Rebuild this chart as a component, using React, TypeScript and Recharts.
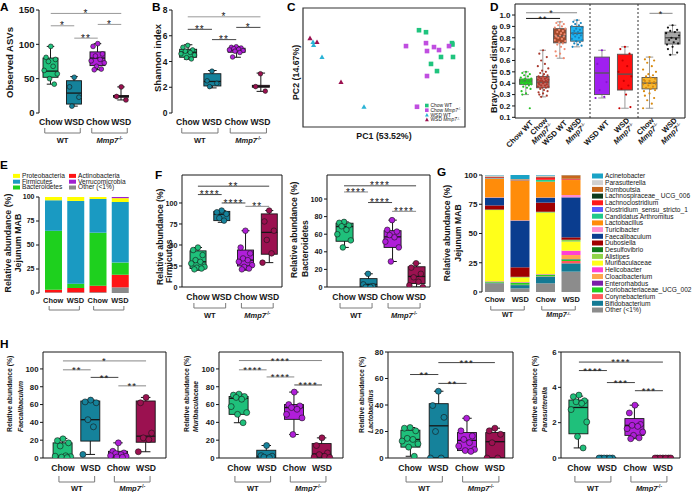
import React from 'react';
import {
  ComposedChart,
  BarChart,
  ScatterChart,
  Bar,
  Scatter,
  XAxis,
  YAxis,
  ReferenceLine,
  ReferenceArea,
  Legend,
} from 'recharts';

const FONT = '"Liberation Sans", Arial, Helvetica, sans-serif';
const INK = '#161616';

// every box panel: Chow WT, WSD WT, Chow Mmp7-/-, WSD Mmp7-/-
const groupColors = ['#1fc07b', '#15829b', '#b01ed9', '#9b1150'];
const xCats = ['Chow', 'WSD', 'Chow', 'WSD'];
const barGroups = ['Chow WT', 'WSD WT', 'Chow KO', 'WSD KO'];

type Sig = [number, number, number, string, string?];

// box stats are [min, q1, median, q3, max]
const asvStats = [[42, 52, 61, 80, 97], [10, 13, 29, 47, 53], [63, 69, 80, 89, 101], [19, 23, 24, 25.5, 38]];
const asvPts = [[97, 81, 78, 75, 68, 62, 57, 50, 42], [52, 38, 23, 10], [101, 97, 86, 83, 78, 76, 73, 68, 64, 63], [38, 24, 19]];
const asvSig: Sig[] = [[0, 3, 145, '*', '#999'], [0, 1, 127, '*', '#999'], [1, 2, 109, '**', '#999'], [2, 3, 129, '*', '#999']];

const shanStats = [[4.18, 4.33, 4.72, 4.95, 5.3], [1.95, 2.1, 2.45, 3.05, 3.3], [4.33, 4.72, 4.9, 5.03, 5.15], [1.68, 2.0, 2.07, 2.15, 3.1]];
const shanPts = [[5.25, 5.1, 4.9, 4.8, 4.7, 4.6, 4.5, 4.3, 4.2], [3.25, 2.5, 2.3, 2.05], [5.15, 5.1, 5.05, 5.0, 4.95, 4.9, 4.85, 4.8, 4.7, 4.35], [3.05, 2.05, 1.7]];
const shanSig: Sig[] = [[0, 3, 7.47, '*', '#999'], [0, 1, 6.5, '**'], [1, 2, 5.7, '**'], [2, 3, 6.65, '*']];

// PCA scores [PC1, PC2]
const pcNames = ['Chow WT', 'Chow Mmp7', 'WSD WT', 'WSD Mmp7'];
const pcChowWT = [[0.175, 0.188], [0.21, 0.178], [0.34, 0.123], [0.342, 0.116], [0.285, 0.053], [0.345, 0.053], [0.235, 0.018], [0.265, -0.018]];
const pcChowKO = [[0.11, 0.108], [0.21, 0.123], [0.215, 0.083], [0.25, 0.103], [0.275, 0.088], [0.325, 0.108], [0.215, -0.043], [0.165, -0.198]];
const pcWsdWT = [[-0.355, 0.128], [-0.352, 0.113], [-0.31, 0.053], [-0.1, -0.198]];
const pcWsdKO = [[-0.37, 0.148], [-0.335, 0.128], [-0.215, -0.073]];

// Bray-Curtis, three facets
const d1Stats = [[0.3, 0.39, 0.42, 0.437, 0.5], [0.28, 0.36, 0.41, 0.46, 0.69], [0.62, 0.755, 0.815, 0.88, 0.94], [0.72, 0.77, 0.84, 0.9, 0.955]];
const d1Pts = [
  [0.5, 0.49, 0.48, 0.47, 0.46, 0.45, 0.44, 0.44, 0.43, 0.43, 0.42, 0.42, 0.42, 0.41, 0.41, 0.41, 0.4, 0.4, 0.4, 0.39, 0.39, 0.38, 0.37, 0.36, 0.35, 0.33, 0.31, 0.3, 0.18],
  [0.69, 0.66, 0.63, 0.6, 0.57, 0.55, 0.53, 0.51, 0.5, 0.49, 0.48, 0.47, 0.46, 0.46, 0.45, 0.45, 0.44, 0.44, 0.43, 0.43, 0.42, 0.42, 0.42, 0.41, 0.41, 0.4, 0.4, 0.39, 0.39, 0.38, 0.38, 0.37, 0.37, 0.36, 0.36, 0.35, 0.34, 0.33, 0.32, 0.31, 0.3, 0.29, 0.28],
  [0.94, 0.93, 0.92, 0.91, 0.9, 0.89, 0.88, 0.87, 0.86, 0.85, 0.84, 0.83, 0.82, 0.82, 0.81, 0.81, 0.8, 0.79, 0.78, 0.77, 0.76, 0.75, 0.74, 0.72, 0.7, 0.68, 0.66, 0.64, 0.62],
  [0.955, 0.94, 0.93, 0.92, 0.91, 0.9, 0.89, 0.88, 0.87, 0.86, 0.85, 0.84, 0.84, 0.83, 0.83, 0.82, 0.81, 0.8, 0.79, 0.78, 0.77, 0.76, 0.75, 0.74, 0.73, 0.72],
];
const d1Sig: Sig[] = [[0, 2, 0.97, '**', INK], [0, 3, 1.02, '*', '#888']];
const d2Stats = [[0.27, 0.3, 0.49, 0.63, 0.69], [0.18, 0.34, 0.48, 0.655, 0.72]];
const d2Pts = [[0.69, 0.57, 0.41, 0.34, 0.28, 0.27], [0.72, 0.7, 0.66, 0.6, 0.55, 0.5, 0.46, 0.42, 0.38, 0.35, 0.3, 0.19, 0.18]];
const d3Stats = [[0.18, 0.35, 0.4, 0.45, 0.63], [0.65, 0.745, 0.8, 0.85, 0.91]];
const d3Pts = [
  [0.63, 0.61, 0.6, 0.58, 0.55, 0.52, 0.5, 0.48, 0.47, 0.46, 0.45, 0.44, 0.43, 0.42, 0.42, 0.41, 0.4, 0.4, 0.39, 0.39, 0.38, 0.37, 0.36, 0.35, 0.34, 0.33, 0.31, 0.29, 0.27, 0.25, 0.22, 0.18],
  [0.91, 0.89, 0.87, 0.86, 0.85, 0.84, 0.82, 0.8, 0.79, 0.78, 0.76, 0.75, 0.74, 0.72, 0.7, 0.67, 0.65],
];
const d3Sig: Sig[] = [[0, 1, 1.015, '*', '#888']];
const d1Labels = [['Chow WT'], ['Chow', 'Mmp7'], ['WSD WT'], ['WSD', 'Mmp7']];
const d2Labels = [['WSD WT'], ['WSD', 'Mmp7']];
const d3Labels = [['Chow', 'Mmp7'], ['WSD', 'Mmp7']];
const dTicks = [0.1, 0.2, 0.3, 0.4, 0.5, 0.6, 0.7, 0.8, 0.9, 1.0];

// phylum stack (bottom to top), groups in barGroups order
const phyla = ['Other (<1%)', 'Actinobacteria', 'Bacteroidetes', 'Firmicutes', 'Proteobacteria', 'Verrucomicrobia'];
const phylumColors = ['#8a8a8a', '#ff1414', '#1ed01e', '#1a9ac2', '#ffff00', '#a020d0'];
const phylumVals = [
  [0.7, 0.7, 0.8, 5.9],
  [2.7, 4.5, 6.8, 13.1],
  [61.4, 4.5, 55.2, 12.7],
  [31.8, 86.2, 35.1, 63.1],
  [3.4, 4.1, 2.1, 4.0],
  [0, 0, 0, 1.2],
];
const phylumLegend = ['Proteobacteria', 'Firmicutes', 'Bacteroidetes', 'Actinobacteria', 'Verrucomicrobia', 'Other (<1%)'];

const firmStats = [[20, 22, 30, 43, 47], [77, 79, 86.5, 90, 91], [20, 25, 32, 44, 67], [29, 39, 65, 87, 91]];
const firmPts = [[47, 44, 38, 32, 30, 28, 24, 23, 22, 21], [91, 89, 87, 82, 79], [67, 47, 40, 34, 32, 30, 26, 24, 22, 21], [91, 78, 67, 56, 40, 29]];
const firmSig: Sig[] = [[0, 3, 120, '**'], [0, 1, 110, '****'], [1, 2, 100, '****'], [2, 3, 96, '**', '#888']];

const bactStats = [[45, 52, 68.7, 72.5, 74], [0, 0, 3, 9.5, 15], [29, 45, 57, 64, 76], [0, 4, 12, 23, 27]];
const bactPts = [[74, 73, 70, 69, 65, 60, 53, 45], [15, 3, 1, 0, 0], [76, 65, 63, 59, 56.5, 51.5, 45, 29], [27, 22, 15, 11, 6, 2, 0]];
const bactSig: Sig[] = [[0, 3, 115, '****'], [0, 1, 108, '****', '#888'], [1, 2, 96, '****'], [2, 3, 86, '****', '#888']];

// genus stack (bottom to top)
const genera = [
  'Other (<1%)', 'Bifidobacterium', 'Corynebacterium', 'Coriobacteriaceae_UCG_002', 'Enterorhabdus',
  'Cloacibacterium', 'Helicobacter', 'Muribaculaceae', 'Alistipes', 'Desulfovibrio', 'Dubosiella',
  'Faecalibaculum', 'Turicibacter', 'Lactobacillus', 'Candidatus Arthromitus', 'Clostridium_sensu_stricto_1',
  'Lachnoclostridium', 'Lachnospiraceae_ UCG_006', 'Romboutsia', 'Parasutterella', 'Acinetobacter',
];
const genusColors = [
  '#8c8c8c', '#137a94', '#ff5a5a', '#22d022', '#7a1fa8', '#ffa64d', '#ff3fd4', '#ffff1a', '#8fd448', '#0f7a1a',
  '#a00000', '#0a3d8f', '#ff8ccf', '#ff8c0a', '#1fc98a', '#5b5bff', '#ff1a1a', '#0d3b1e', '#c8661a', '#d0d0d0', '#1ba3c6',
];
const genusVals = [
  [7.5, 3.1, 7.4, 17.4], [0.3, 2.8, 5.7, 7.1], [0.2, 0.3, 0.3, 2.0], [0.8, 1.7, 1.4, 1.4], [0.1, 0.2, 0.1, 0.3],
  [0.1, 0.1, 0.2, 3.4], [0.2, 0.3, 0.2, 3.7], [60.8, 4.0, 52.5, 7.7], [0.2, 0.2, 0.5, 1.4], [0.3, 0.3, 0.3, 0.3],
  [3.5, 8.1, 7.8, 2.0], [6.6, 39.9, 4.2, 34.2], [0.3, 0.3, 0.2, 2.0], [16.0, 33.9, 13.5, 12.8], [0.3, 0.1, 1.4, 0.2],
  [0.2, 0.1, 0.2, 0.1], [0.7, 0.2, 2.1, 0.6], [0.3, 0.1, 0.3, 0.2], [0.3, 0.6, 0.4, 3.0], [1.0, 0.2, 0.8, 0.1], [0.3, 3.5, 0.5, 0.1],
];

const faecStats = [[0.3, 0.8, 2, 17, 22], [4, 19, 43, 64, 65], [0.8, 2, 5, 7.5, 17], [7, 17.7, 24.5, 64, 68]];
const faecPts = [[21.5, 19.5, 17, 13.5, 2.5, 2, 1.5, 1, 0.5], [65, 63, 62, 43, 35, 4], [17, 7.5, 5.7, 5, 3.8, 2.6, 1.9, 1.1, 0.8], [68, 62, 28, 22.6, 20.7, 7]];
const faecSig: Sig[] = [[0, 3, 109, '*', '#888'], [0, 1, 99, '**', '#888'], [1, 2, 90.5, '**'], [2, 3, 81, '**', '#888']];

const muriStats = [[39.6, 49, 67, 69, 71.7], [0, 0, 2, 8.7, 14], [26.4, 43.4, 56.6, 60, 74], [0, 1.1, 4.5, 16.2, 22.6]];
const muriPts = [[71.7, 70.6, 69, 68, 66, 57.7, 51, 49, 39.6], [14, 2.6, 2, 1, 0.5], [74, 60, 58.5, 56.6, 54.7, 49, 45, 26.4], [22.6, 14, 5.7, 3.8, 1.9, 1.1, 0.7]];
const muriSig: Sig[] = [[0, 3, 109.4, '****', '#888'], [0, 1, 99, '****', '#888'], [1, 2, 91, '****', '#888'], [2, 3, 82, '****']];

const lactStats = [[1.3, 8.2, 14, 21, 23], [0, 0, 24.3, 41, 50.4], [5, 5.6, 13.3, 19.2, 30], [0, 0, 12.3, 19.2, 22.5]];
const lactPts = [[23, 22.5, 20.5, 14.8, 14, 12.8, 10.7, 8.2, 1.3], [50.4, 39.6, 30.7, 20, 0, 0], [30, 20.5, 16.6, 14, 11.5, 9, 6.4, 5.6, 5], [22.5, 20.5, 17.9, 11.5, 0, 0]];
const lactSig: Sig[] = [[0, 1, 63, '**'], [1, 3, 72, '***'], [1, 2, 56.3, '**']];

const paraStats = [[0.57, 1.37, 2.86, 3.28, 3.5], [0, 0, 0, 0, 0], [1.09, 1.28, 1.85, 2.23, 2.99], [0, 0, 0, 0, 0]];
const paraPts = [[3.56, 3.47, 3.24, 3.18, 3.09, 2.74, 2.04, 1.22, 0.57], [0, 0, 0, 0, 0, 0], [2.99, 2.55, 1.9, 1.85, 1.79, 1.66, 1.47, 1.28, 1.14, 1.09], [0, 0, 0, 0, 0, 0, 0]];
const paraSig: Sig[] = [[0, 3, 5.43, '****'], [0, 1, 4.95, '****'], [1, 2, 4.27, '***'], [2, 3, 3.81, '***']];

// horizontal spread of dots inside a box (fraction of a category)
const JIT = [0, -0.2, 0.2, -0.1, 0.1, -0.28, 0.28, -0.05, 0.15, -0.15, 0.05, 0.24, -0.24];

const Mmp7 = ({ fs }: { fs: number }) => (
  <>
    <tspan fontStyle="italic">Mmp7</tspan>
    <tspan dy={-fs * 0.35} fontSize={fs * 0.62}>-/-</tspan>
  </>
);

type TickOpt = { fs: number; ly: number; bt: number; bb: number; gy?: number; gfs?: number; ext: number };

const groupTick = (o: TickOpt) => (s: number) => (p: any) => {
  const i = p.index;
  const { x, y } = p;
  return (
    <g>
      <text x={x} y={y + o.ly} textAnchor="middle" fontSize={o.fs} fontWeight={700} fontFamily={FONT} fill={INK}>
        {xCats[i]}
      </text>
      {i % 2 === 0 && (
        <path d={`M${x - o.ext},${y + o.bt}V${y + o.bb}H${x + s + o.ext}V${y + o.bt}`} fill="none" stroke="#7a7a7a" strokeWidth={1} />
      )}
      {i % 2 === 0 && o.gy != null && (
        <text x={x + s / 2} y={y + o.gy} textAnchor="middle" fontSize={o.gfs} fontWeight={700} fontFamily={FONT} fill={INK}>
          {i === 0 ? 'WT' : <Mmp7 fs={o.gfs || 7} />}
        </text>
      )}
    </g>
  );
};

const dTick = (labels: string[][]) => () => (p: any) => {
  const L = labels[p.index] || [];
  return (
    <g transform={`translate(${p.x + 4},${p.y + 2}) rotate(-45)`}>
      {L.map((t, k) => (
        <text key={k} x={0} y={5 + (k - (L.length - 1) / 2) * 7.5} textAnchor="end" fontSize={7.6} fontWeight={700} fontFamily={FONT} fill={INK}>
          {t === 'Mmp7' ? <Mmp7 fs={7.6} /> : t}
        </text>
      ))}
    </g>
  );
};

function BoxShape(p: any) {
  const { x, y, width, height, payload, line, wcol } = p;
  if (x == null || !payload) return null;
  const [lo, hi] = payload.range;
  const f = (v: number) => (hi === lo ? y : y + (height * (hi - v)) / (hi - lo));
  const cx = x + width / 2;
  const cap = width * 0.25;
  const y3 = f(payload.q3);
  const y1 = f(payload.q1);
  return (
    <g>
      <line x1={cx} x2={cx} y1={f(hi)} y2={f(lo)} stroke={wcol} strokeWidth={1} />
      <line x1={cx - cap} x2={cx + cap} y1={f(hi)} y2={f(hi)} stroke={wcol} strokeWidth={1} />
      <line x1={cx - cap} x2={cx + cap} y1={f(lo)} y2={f(lo)} stroke={wcol} strokeWidth={1} />
      <rect x={x} y={y3} width={width} height={Math.max(y1 - y3, 0.6)} fill={payload.c} stroke={line} strokeWidth={0.9} />
      <line x1={x} x2={x + width} y1={f(payload.med)} y2={f(payload.med)} stroke={line} strokeWidth={1.3} />
    </g>
  );
}

const SigText = (p: any) => {
  const vb = p.viewBox || {};
  return (
    <text x={(vb.x || 0) + (vb.width || 0) / 2} y={(vb.y || 0) + p.fs * 0.36} textAnchor="middle" fontSize={p.fs} fontFamily={FONT} fill={INK} letterSpacing={1.1}>
      {p.t}
    </text>
  );
};

function BoxPanel(p: any) {
  const {
    x0, x1, y0, y1, yw, dom, yTicks, xdom, stats, pts, colors, ptColors, sigs, bar, r, jit = 1,
    frame = '', tick, xh, tfs = 8, line = INK, wcol = INK, ptStroke = INK, sigFs = 10, hideY = false, fmt, ml = 0,
  } = p;
  const mt = 10;
  const mr = 6;
  const left = x0 - yw - ml;
  const top = y0 - mt;
  const w = x1 - left + mr;
  const h = y1 - top + xh;
  const n = stats.length;
  const s = (x1 - x0) / (xdom[1] - xdom[0]);
  const rows = stats.map((q: number[], i: number) => ({ key: `g${i}`, pos: i + 0.5, range: [q[0], q[4]], q1: q[1], med: q[2], q3: q[3], c: colors[i] }));
  const pc = ptColors || colors;
  const dots = pts.flatMap((a: number[], i: number) =>
    a.map((v, j) => ({ pos: i + 0.5 + JIT[j % JIT.length] * jit, v, c: pc[i] })),
  );
  return (
    <div style={{ position: 'absolute', left, top }}>
      <ComposedChart width={w} height={h} data={rows} margin={{ top: mt, right: mr, bottom: 0, left: ml }}>
        <XAxis
          dataKey="pos"
          type="number"
          domain={xdom}
          allowDataOverflow
          ticks={rows.map((q: any) => q.pos)}
          interval={0}
          height={xh}
          tickSize={0}
          tickMargin={0}
          tickLine={false}
          axisLine={frame.includes('b') ? { stroke: INK } : false}
          tick={tick(s)}
        />
        <XAxis
          xAxisId="cat"
          dataKey="key"
          type="category"
          hide
          padding={{ left: -xdom[0] * s, right: (xdom[1] - n) * s }}
        />
        <YAxis
          type="number"
          domain={dom}
          allowDataOverflow
          ticks={yTicks}
          interval={0}
          width={yw}
          hide={hideY}
          tickSize={3}
          tickMargin={1.5}
          stroke={INK}
          tickFormatter={fmt}
          tick={{ fontSize: tfs, fontWeight: 700, fill: INK, fontFamily: FONT }}
        />
        {frame.includes('t') && <ReferenceLine y={dom[1]} stroke={INK} ifOverflow="visible" />}
        {frame.includes('r') && <ReferenceLine x={xdom[1]} stroke={INK} ifOverflow="visible" />}
        {frame.includes('d') && <ReferenceLine x={xdom[0]} stroke="#333" strokeDasharray="2 2" ifOverflow="visible" />}
        <Bar xAxisId="cat" dataKey="range" barSize={bar} isAnimationActive={false} shape={(b: any) => <BoxShape {...b} line={line} wcol={wcol} />} />
        <Scatter
          data={dots}
          dataKey="v"
          isAnimationActive={false}
          shape={(d: any) => <circle cx={d.cx} cy={d.cy} r={r} fill={d.payload.c} stroke={ptStroke} strokeWidth={0.6} />}
        />
        {sigs.map(([a, b, y, t, c]: Sig, k: number) => (
          <ReferenceLine
            key={k}
            segment={[{ x: a + 0.5, y }, { x: b + 0.5, y }]}
            stroke={c || '#444'}
            strokeWidth={1}
            ifOverflow="visible"
            label={<SigText t={t} fs={sigFs} />}
          />
        ))}
      </ComposedChart>
    </div>
  );
}

const abTick = groupTick({ fs: 8.6, ly: 12, bt: 15, bb: 20, gy: 30, gfs: 7.5, ext: 6 });
const fTick = groupTick({ fs: 8.6, ly: 13, bt: 16, bb: 21, gy: 31, gfs: 7.5, ext: 4 });
const hTick = groupTick({ fs: 8.6, ly: 13, bt: 18, bb: 24, gy: 33, gfs: 7.5, ext: 4 });
const eTick = groupTick({ fs: 7.4, ly: 10, bt: 13, bb: 17, ext: 4 });
const gTick = groupTick({ fs: 7.4, ly: 10, bt: 14, bb: 18, gy: 25, gfs: 7, ext: 4 });

const phylumLegendBox = (p: any) => {
  const items: any[] = phylumLegend.map((n) => (p.payload || []).find((q: any) => q.value === n)).filter(Boolean);
  return (
    <svg width={125} height={19} style={{ display: 'block', overflow: 'visible' }}>
      {items.map((q, k) => {
        const x = k < 3 ? 0 : 56;
        const y = (k % 3) * 5.8;
        return (
          <g key={q.value}>
            <rect x={x} y={y + 0.9} width={7} height={4} fill={q.color} />
            <text x={x + 9} y={y + 4.8} fontSize={6.6} fontFamily={FONT} fill={INK}>{q.value}</text>
          </g>
        );
      })}
    </svg>
  );
};

const genusLegendBox = (p: any) => {
  const items: any[] = [...(p.payload || [])].sort((a: any, b: any) => genera.indexOf(b.value) - genera.indexOf(a.value));
  return (
    <svg width={104} height={146} style={{ display: 'block', overflow: 'visible' }}>
      {items.map((q, k) => (
        <g key={q.value}>
          <rect x={0} y={3 + k * 6.7 - 2.5} width={11} height={5} fill={q.color} />
          <text x={13} y={3 + k * 6.7 + 2.3} fontSize={6.6} fontFamily={FONT} fill={INK}>{q.value}</text>
        </g>
      ))}
    </svg>
  );
};

const pcaLegendBox = (p: any) => {
  const items: any[] = pcNames.map((n) => (p.payload || []).find((q: any) => q.value === n)).filter(Boolean);
  return (
    <svg width={44} height={20} style={{ display: 'block', overflow: 'visible' }}>
      {items.map((q, k) => {
        const cy = 2.5 + k * 4.7;
        const [g, ko] = String(q.value).split(' ');
        return (
          <g key={k}>
            {k < 2 ? (
              <rect x={0} y={cy - 1.8} width={3.6} height={3.6} fill={q.color} />
            ) : (
              <polygon points={`0,${cy + 1.7} 3.8,${cy + 1.7} 1.9,${cy - 2}`} fill={q.color} />
            )}
            <text x={5.5} y={cy + 1.7} fontSize={4.9} fontFamily={FONT} fill={INK}>
              {g} {ko === 'Mmp7' ? <Mmp7 fs={4.9} /> : ko}
            </text>
          </g>
        );
      })}
    </svg>
  );
};

const square = (d: any) => <rect x={d.cx - 2.3} y={d.cy - 2.3} width={4.6} height={4.6} fill={d.fill} />;
const triangle = (d: any) => <polygon points={`${d.cx - 2.6},${d.cy + 2} ${d.cx + 2.6},${d.cy + 2} ${d.cx},${d.cy - 2.6}`} fill={d.fill} />;
const toXY = (a: number[][]) => a.map(([x, y]) => ({ x, y }));

function PcaPanel() {
  return (
    <div style={{ position: 'absolute', left: 285, top: 4 }}>
      <ScatterChart width={184} height={139} margin={{ top: 4, right: 4, bottom: 0, left: 0 }}>
        <XAxis type="number" dataKey="x" domain={[-0.405, 0.405]} allowDataOverflow tick={false} tickLine={false} axisLine={false} height={16} />
        <YAxis type="number" dataKey="y" domain={[-0.3, 0.3]} allowDataOverflow tick={false} tickLine={false} axisLine={false} width={18} />
        <ReferenceArea x1={-0.405} x2={0.405} y1={-0.3} y2={0.3} fill="none" stroke="#333" strokeWidth={1.2} ifOverflow="visible" />
        <Scatter name="Chow WT" data={toXY(pcChowWT)} fill="#1fc47e" shape={square} isAnimationActive={false} />
        <Scatter name="Chow Mmp7" data={toXY(pcChowKO)} fill="#c04ee0" shape={square} isAnimationActive={false} />
        <Scatter name="WSD WT" data={toXY(pcWsdWT)} fill="#2bb3d6" shape={triangle} isAnimationActive={false} />
        <Scatter name="WSD Mmp7" data={toXY(pcWsdKO)} fill="#9b1150" shape={triangle} isAnimationActive={false} />
        <Legend layout="horizontal" verticalAlign="middle" align="center" wrapperStyle={{ left: 140, top: 99, width: 44, height: 20 }} content={pcaLegendBox} />
      </ScatterChart>
    </div>
  );
}

function PhylumPanel() {
  const rows = barGroups.map((g, i) => {
    const o: any = { g };
    phyla.forEach((ph, k) => (o[ph] = phylumVals[k][i]));
    return o;
  });
  return (
    <div style={{ position: 'absolute', left: 20, top: 168 }}>
      <BarChart width={115} height={145} data={rows} margin={{ top: 29, right: 2, bottom: 0, left: 0 }}>
        <XAxis dataKey="g" height={20} tickSize={0} tickMargin={0} tickLine={false} axisLine={false} padding={{ left: 3, right: 2 }} interval={0} tick={eTick(22.25)} />
        <YAxis domain={[0, 100]} ticks={[0, 25, 50, 75, 100]} interval={0} width={19} tickSize={3} tickMargin={1.5} stroke={INK} tick={{ fontSize: 7, fontWeight: 700, fill: INK, fontFamily: FONT }} />
        {phyla.map((ph, k) => (
          <Bar key={ph} dataKey={ph} name={ph} stackId="a" fill={phylumColors[k]} barSize={17} isAnimationActive={false} />
        ))}
        <Legend layout="horizontal" verticalAlign="middle" align="center" wrapperStyle={{ left: -7, top: 5, width: 125, height: 19 }} content={phylumLegendBox} />
      </BarChart>
    </div>
  );
}

function GenusPanel() {
  const rows = barGroups.map((g, i) => {
    const o: any = { g };
    genera.forEach((ge, k) => (o[ge] = genusVals[k][i]));
    return o;
  });
  return (
    <div style={{ position: 'absolute', left: 462, top: 168 }}>
      <BarChart width={234} height={152} data={rows} margin={{ top: 7, right: 107, bottom: 0, left: 0 }}>
        <XAxis dataKey="g" height={28} tickSize={0} tickMargin={0} tickLine={false} axisLine={false} padding={{ left: 0, right: 5 }} interval={0} tick={gTick(25.5)} />
        <YAxis domain={[0, 100]} ticks={[0, 25, 50, 75, 100]} interval={0} width={20} tickSize={3} tickMargin={1.5} stroke={INK} tick={{ fontSize: 8, fontWeight: 700, fill: INK, fontFamily: FONT }} />
        {genera.map((ge, k) => (
          <Bar key={ge} dataKey={ge} name={ge} stackId="a" fill={genusColors[k]} barSize={19} isAnimationActive={false} />
        ))}
        <Legend layout="horizontal" verticalAlign="middle" align="center" wrapperStyle={{ left: 130, top: 5, width: 104, height: 146 }} content={genusLegendBox} />
      </BarChart>
    </div>
  );
}

const Letter = ({ t, x, y }: { t: string; x: number; y: number }) => (
  <div style={{ position: 'absolute', left: x, top: y, fontFamily: FONT, fontWeight: 700, fontSize: 11.8, lineHeight: 1, color: '#000' }}>{t}</div>
);

// vertical axis title; y is where the text starts (bottom) unless mid
const VLab = ({ x, y, size, it, mid, children }: any) => (
  <div
    style={{
      position: 'absolute', left: x, top: y, transformOrigin: '0 0',
      transform: mid ? 'rotate(-90deg) translate(-50%, -50%)' : 'rotate(-90deg) translateY(-50%)',
      whiteSpace: 'nowrap', fontFamily: FONT, fontWeight: 700, fontSize: size, fontStyle: it ? 'italic' : 'normal',
      lineHeight: 1, color: INK,
    }}
  >
    {children}
  </div>
);

const dBox1 = ['#2ee82e', '#c8685e', '#a34a2c', '#1fb4f0'];
const dPt1 = ['#26c026', '#a8382c', '#f08a70', '#1583bd'];

export default function App() {
  return (
    <div style={{ position: 'absolute', left: 0, top: 0, width: 696, height: 492, overflow: 'hidden', background: '#fff' }}>
      <BoxPanel x0={39} x1={133} y0={10} y1={113} yw={22} dom={[0, 150]} yTicks={[0, 50, 100, 150]} xdom={[0, 4]}
        stats={asvStats} pts={asvPts} colors={groupColors} sigs={asvSig} bar={15} r={2.4} tick={abTick} xh={36} tfs={9.5} />
      <BoxPanel x0={172} x1={275} y0={10} y1={113} yw={12} dom={[0, 8]} yTicks={[0, 2, 4, 6, 8]} xdom={[-0.15, 4.1]}
        stats={shanStats} pts={shanPts} colors={groupColors} sigs={shanSig} bar={17} r={2.3} tick={abTick} xh={36} tfs={8.5} />
      <PcaPanel />

      <BoxPanel x0={515} x1={590} y0={4} y1={118} yw={24} dom={[0.094, 1.097]} yTicks={dTicks} xdom={[-0.15, 4.26]}
        stats={d1Stats} pts={d1Pts} colors={dBox1} ptColors={dPt1} sigs={d1Sig} bar={12.5} r={1.1} jit={1.1}
        frame="tb" tick={dTick(d1Labels)} xh={42} tfs={8} line="#555" wcol="#999" ptStroke="none" sigFs={9}
        fmt={(v: number) => v.toFixed(1)} />
      <BoxPanel x0={590} x1={638} y0={4} y1={118} yw={0} ml={40} hideY dom={[0.094, 1.097]} yTicks={dTicks} xdom={[-0.02, 2.07]}
        stats={d2Stats} pts={d2Pts} colors={['#a020f0', '#ff1010']} ptColors={['#8a12d0', '#c80000']} sigs={[]} bar={15} r={1.1}
        frame="tbd" tick={dTick(d2Labels)} xh={42} line="#555" wcol="#999" ptStroke="none" />
      <BoxPanel x0={638} x1={685} y0={4} y1={118} yw={0} ml={40} hideY dom={[0.094, 1.097]} yTicks={dTicks} xdom={[0, 2.04]}
        stats={d3Stats} pts={d3Pts} colors={['#f8b830', '#a8a8a8']} ptColors={['#d88a10', '#111']} sigs={d3Sig} bar={15} r={1.1}
        frame="tbdr" tick={dTick(d3Labels)} xh={42} line="#555" wcol="#999" ptStroke="none" sigFs={9} />

      <PhylumPanel />
      <BoxPanel x0={182} x1={282} y0={175} y1={287} yw={16} dom={[0, 133.3]} yTicks={[0, 25, 50, 75, 100]} xdom={[-0.17, 4.04]}
        stats={firmStats} pts={firmPts} colors={groupColors} sigs={firmSig} bar={16} r={2.8} frame="tbr" tick={fTick} xh={34} tfs={7.2} />
      <BoxPanel x0={327} x1={430} y0={175} y1={287} yw={16} dom={[0, 127.3]} yTicks={[0, 20, 40, 60, 80, 100]} xdom={[-0.21, 4.08]}
        stats={bactStats} pts={bactPts} colors={groupColors} sigs={bactSig} bar={17} r={2.8} frame="tbr" tick={fTick} xh={34} tfs={7.2} />
      <GenusPanel />

      <BoxPanel x0={43} x1={166} y0={352} y1={458} yw={18} dom={[0, 119]} yTicks={[0, 20, 40, 60, 80, 100]} xdom={[-0.22, 4.22]}
        stats={faecStats} pts={faecPts} colors={groupColors} sigs={faecSig} bar={19} r={3} frame="tbr" tick={hTick} xh={36} tfs={7.8} sigFs={9.5} />
      <BoxPanel x0={219} x1={343} y0={352} y1={458} yw={18} dom={[0, 119]} yTicks={[0, 20, 40, 60, 80, 100]} xdom={[-0.22, 4.26]}
        stats={muriStats} pts={muriPts} colors={groupColors} sigs={muriSig} bar={19} r={3} frame="tbr" tick={hTick} xh={36} tfs={7.8} sigFs={9.5} />
      <BoxPanel x0={388} x1={513} y0={352} y1={458} yw={14} dom={[0, 80]} yTicks={[0, 20, 40, 60, 80]} xdom={[-0.28, 4.14]}
        stats={lactStats} pts={lactPts} colors={groupColors} sigs={lactSig} bar={19} r={3} frame="tbr" tick={hTick} xh={36} tfs={7.8} sigFs={9.5} />
      <BoxPanel x0={561} x1={680} y0={352} y1={458} yw={10} dom={[0, 6]} yTicks={[0, 2, 4, 6]} xdom={[-0.14, 4.11]}
        stats={paraStats} pts={paraPts} colors={groupColors} sigs={paraSig} bar={19} r={3} frame="tbr" tick={hTick} xh={36} tfs={7.8} sigFs={9.5} />

      <Letter t="A" x={0} y={2} />
      <Letter t="B" x={152} y={1.5} />
      <Letter t="C" x={287} y={1.5} />
      <Letter t="D" x={490} y={1.5} />
      <Letter t="E" x={0} y={160} />
      <Letter t="F" x={155} y={170} />
      <Letter t="G" x={437} y={166.5} />
      <Letter t="H" x={0} y={338.5} />

      <VLab x={10} y={98} size={9.5}>Observed ASVs</VLab>
      <VLab x={157.5} y={92} size={9.5}>Shannon index</VLab>
      <VLab x={296} y={100} size={8.8}>PC2 (14.67%)</VLab>
      <div style={{ position: 'absolute', left: 384, top: 131.5, transform: 'translateX(-50%)', whiteSpace: 'nowrap', fontFamily: FONT, fontWeight: 700, fontSize: 8.8, lineHeight: 1, color: INK }}>
        PC1 (53.52%)
      </div>
      <VLab x={494} y={113} size={9}>Bray-Curtis distance</VLab>
      <VLab x={7.5} y={243} size={8.8} mid>Relative abundance (%)</VLab>
      <VLab x={18} y={243} size={8.8} mid>Jejunum MAB</VLab>
      <VLab x={159.5} y={285} size={8.6}>Relative abundance (%)</VLab>
      <VLab x={168.5} y={283} size={8.6}>Firmicutes</VLab>
      <VLab x={294} y={278} size={8.6}>Relative abundance (%)</VLab>
      <VLab x={304.5} y={277} size={8.6}>Bacteroidetes</VLab>
      <VLab x={447} y={233} size={8.6} mid>Relative abundance (%)</VLab>
      <VLab x={457.5} y={233} size={8.6} mid>Jejunum MAB</VLab>
      <VLab x={10} y={432} size={6.8}>Relative abundance (%)</VLab>
      <VLab x={20.5} y={432} size={6.8} it>Faecalibaculum</VLab>
      <VLab x={186.5} y={432} size={6.8}>Relative abundance (%)</VLab>
      <VLab x={195.5} y={432} size={6.8} it>Muribaculaceae</VLab>
      <VLab x={361.5} y={433} size={6.8}>Relative abundance (%)</VLab>
      <VLab x={370.5} y={433} size={6.8} it>Lactobacillus</VLab>
      <VLab x={535} y={432} size={6.8}>Relative abundance (%)</VLab>
      <VLab x={545} y={432} size={6.8} it>Parasutterella</VLab>
    </div>
  );
}
